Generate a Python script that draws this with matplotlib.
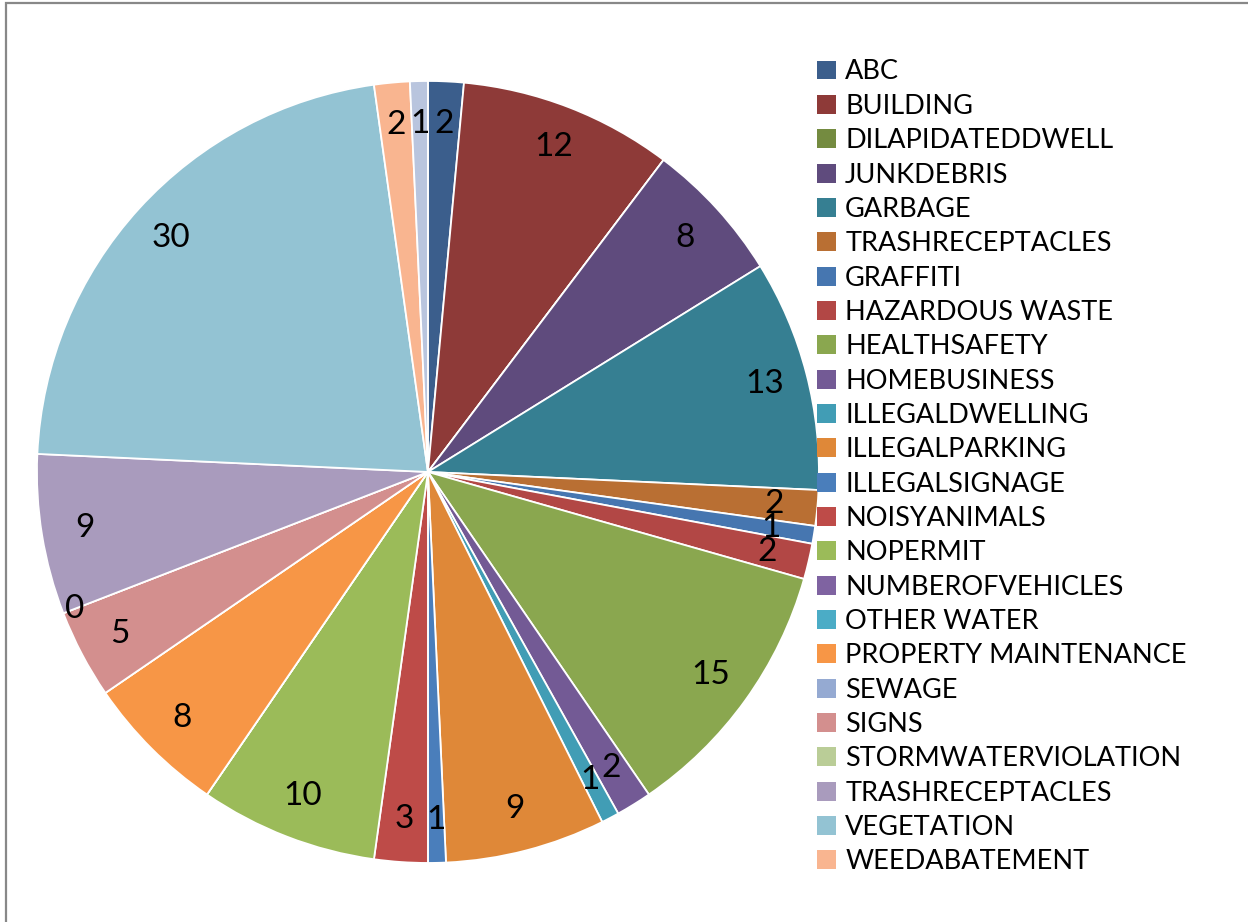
import numpy as np
import matplotlib
matplotlib.use('Agg')
import matplotlib.pyplot as plt
from matplotlib.patches import Patch, Rectangle

categories = ['ABC', 'BUILDING', 'DILAPIDATEDDWELL', 'JUNKDEBRIS', 'GARBAGE',
              'TRASHRECEPTACLES', 'GRAFFITI', 'HAZARDOUS WASTE', 'HEALTHSAFETY',
              'HOMEBUSINESS', 'ILLEGALDWELLING', 'ILLEGALPARKING', 'ILLEGALSIGNAGE',
              'NOISYANIMALS', 'NOPERMIT', 'NUMBEROFVEHICLES', 'OTHER WATER',
              'PROPERTY MAINTENANCE', 'SEWAGE', 'SIGNS', 'STORMWATERVIOLATION',
              'TRASHRECEPTACLES', 'VEGETATION', 'WEEDABATEMENT', '(blank)']
# None = no value in the sheet (no label drawn)
values = [2, 12, None, 8, 13, 2, 1, 2, 15, 2, 1, 9, 1, 3, 10, None, None, 8,
          None, 5, 0, 9, 30, 2, 1]
colours = ['#3b5e8c', '#8e3a38', '#748b40', '#5f4b7d', '#367f92', '#b96f33',
           '#4676b0', '#b24745', '#8aa74f', '#735a95', '#419db5', '#df8838',
           '#4a7ebb', '#be4b48', '#9bbb59', '#7f63a1', '#4bacc6', '#f79646',
           '#95aad2', '#d38f8e', '#bacd97', '#a99bbd', '#93c3d3', '#f9b590',
           '#b9c5de']
n_legend = 24  # the last slice doesn't fit in the legend

sizes = [v if v is not None else 0 for v in values]

plt.rcParams['font.family'] = ['Lato', 'DejaVu Sans']

fig = plt.figure(figsize=(12.48, 9.22), dpi=100)
fig.patches.append(Rectangle((0.0048, -0.05), 1.1, 1.047, transform=fig.transFigure,
                             fill=False, edgecolor='#888888', linewidth=1.6))

ax = fig.add_axes([0.0296, 0.0640, 0.6266, 0.8482])
wedges, _ = ax.pie(sizes, colors=colours, startangle=90, counterclock=False,
                   wedgeprops=dict(edgecolor='white', linewidth=1.3))
ax.set_xlim(-1, 1)
ax.set_ylim(-1, 1)

for w, v in zip(wedges, values):
    if v is None:
        continue
    mid = np.deg2rad((w.theta1 + w.theta2) / 2)
    r = 0.89 if v > 0 else 0.97
    ax.text(r * np.cos(mid), r * np.sin(mid), str(v), ha='center', va='center',
            fontsize=24, color='black')

handles = [Patch(facecolor=c, edgecolor='none') for c in colours[:n_legend]]
fig.legend(handles, categories[:n_legend], loc='upper left',
           bbox_to_anchor=(0.6544, 0.9355), frameon=False, fontsize=19.5,
           handlelength=0.7, handleheight=0.7, handletextpad=0.35,
           labelspacing=0.345, borderpad=0, borderaxespad=0)

plt.savefig('out.png', dpi=100)
